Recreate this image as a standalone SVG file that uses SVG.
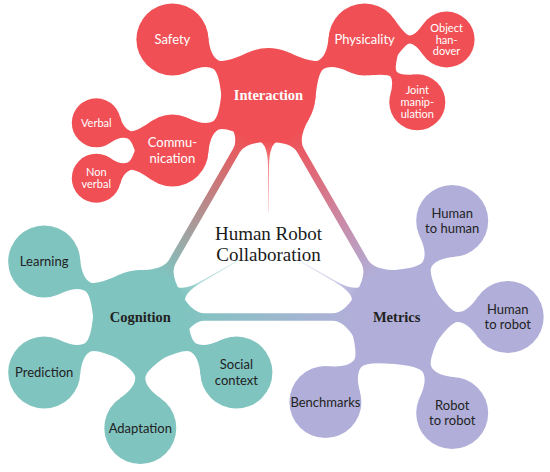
<svg xmlns="http://www.w3.org/2000/svg" width="550" height="472" viewBox="0 0 550 472">
<defs>
<style>
.r{fill:#F05055}
.t{fill:#80C4C0}
.l{fill:#B1AFD9}
.lab{font-family:Lato,"Open Sans",sans-serif;font-size:13px;text-anchor:middle}
.sm{font-family:Lato,"Open Sans",sans-serif;font-size:11px;text-anchor:middle}
.main{font-family:"Liberation Serif","Times New Roman",serif;font-size:14.5px;font-weight:bold;text-anchor:middle}
.ctr{font-family:"Liberation Serif","Times New Roman",serif;font-size:19px;text-anchor:middle;fill:#1a1a1a}
.w{fill:#fff}
.d{fill:#222}
</style>
<path id="cA" d="M38.5,27 Q53.9,5 61,5 Q70.6,5 81.5,20.6 L81.5,-20.6 Q70.6,-5 61,-5 Q53.9,-5 38.5,-27 Z"/>
<path id="cB" d="M29.5,20.6 Q41.1,4 45,4 Q50.6,4 59.1,16.1 L59.1,-16.1 Q50.6,-4 45,-4 Q41.1,-4 29.5,-20.6 Z"/>
<path id="cC" d="M29.5,20.6 Q41.1,4 46.2,4 Q53.9,4 60.9,14 L60.9,-14 Q53.9,-4 46.2,-4 Q41.1,-4 29.5,-20.6 Z"/>
<path id="band" d="M40.7,23.5 Q52.1,3.75 64,3.75 L192.3,3.75 Q204.2,3.75 215.6,23.5 L215.6,-23.5 Q204.2,-3.75 192.3,-3.75 L64,-3.75 Q52.1,-3.75 40.7,-23.5 Z"/>
<path id="cusp" d="M45.8,10.6 Q48.1,0.5 72,0.5 L118,0.5 L118,-0.5 L72,-0.5 Q48.1,-0.5 45.8,-10.6 Z"/>
<linearGradient id="gIC" gradientUnits="userSpaceOnUse" x1="47" y1="0" x2="209" y2="0"><stop offset="0" stop-color="#F05055"/><stop offset="1" stop-color="#80C4C0"/></linearGradient>
<linearGradient id="gIM" gradientUnits="userSpaceOnUse" x1="47" y1="0" x2="209" y2="0"><stop offset="0" stop-color="#F05055"/><stop offset="1" stop-color="#B1AFD9"/></linearGradient>
<linearGradient id="gCM" gradientUnits="userSpaceOnUse" x1="47" y1="0" x2="209" y2="0"><stop offset="0" stop-color="#80C4C0"/><stop offset="1" stop-color="#B1AFD9"/></linearGradient>
<linearGradient id="fI" gradientUnits="userSpaceOnUse" x1="47" y1="0" x2="120" y2="0"><stop offset="0" stop-color="#F05055"/><stop offset="1" stop-color="#F05055" stop-opacity="0.1"/></linearGradient>
<linearGradient id="fC" gradientUnits="userSpaceOnUse" x1="47" y1="0" x2="120" y2="0"><stop offset="0" stop-color="#80C4C0"/><stop offset="1" stop-color="#80C4C0" stop-opacity="0.1"/></linearGradient>
<linearGradient id="fM" gradientUnits="userSpaceOnUse" x1="47" y1="0" x2="120" y2="0"><stop offset="0" stop-color="#B1AFD9"/><stop offset="1" stop-color="#B1AFD9" stop-opacity="0.1"/></linearGradient>
</defs>
<rect width="550" height="472" fill="#fff"/>
<g id="connectors">
<use href="#band" fill="url(#gIC)" transform="translate(268.5,95) rotate(120)"/>
<use href="#band" fill="url(#gIM)" transform="translate(268.5,95) rotate(60)"/>
<use href="#band" fill="url(#gCM)" transform="translate(140.3,317) rotate(0)"/>
<use href="#cusp" fill="url(#fI)" transform="translate(268.5,95) rotate(90)"/>
<use href="#cusp" fill="url(#fC)" transform="translate(140.3,317) rotate(-30)"/>
<use href="#cusp" fill="url(#fM)" transform="translate(396.7,317) rotate(-150)"/>
<use href="#cA" class="r" transform="translate(268.5,95) rotate(-150)"/>
<use href="#cA" class="r" transform="translate(268.5,95) rotate(-30)"/>
<use href="#cA" class="r" transform="translate(268.5,95) rotate(150)"/>
<use href="#cB" class="r" transform="translate(364.6,39.5) rotate(0)"/>
<use href="#cB" class="r" transform="translate(364.6,39.5) rotate(50)"/>
<use href="#cC" class="r" transform="translate(172.4,150.5) rotate(200)"/>
<use href="#cC" class="r" transform="translate(172.4,150.5) rotate(160)"/>
<use href="#cA" class="t" transform="translate(140.3,317) rotate(-150)"/>
<use href="#cA" class="t" transform="translate(140.3,317) rotate(150)"/>
<use href="#cA" class="t" transform="translate(140.3,317) rotate(90)"/>
<use href="#cA" class="t" transform="translate(140.3,317) rotate(30)"/>
<use href="#cA" class="l" transform="translate(396.7,317) rotate(-60)"/>
<use href="#cA" class="l" transform="translate(396.7,317) rotate(0)"/>
<use href="#cA" class="l" transform="translate(396.7,317) rotate(60)"/>
<use href="#cA" class="l" transform="translate(396.7,317) rotate(130)"/>
</g>
<g id="center"><text class="ctr" x="268.5" y="240">Human Robot</text><text class="ctr" x="268.5" y="260.5">Collaboration</text></g>
<g id="interaction"><circle class="r" cx="268.5" cy="95" r="47"/><text class="main w" x="268.5" y="100">Interaction</text></g>
<g id="safety"><circle class="r" cx="172.4" cy="39.5" r="36"/><text class="lab w" x="172.4" y="44">Safety</text></g>
<g id="physicality"><circle class="r" cx="364.6" cy="39.5" r="36"/><text class="lab w" x="364.6" y="44">Physicality</text></g>
<g id="object-handover"><circle class="r" cx="446.6" cy="39.5" r="28"/><text class="sm w" x="446.6" y="32">Object</text><text class="sm w" x="446.6" y="43.7">han-</text><text class="sm w" x="446.6" y="55.4">dover</text></g>
<g id="joint-manipulation"><circle class="r" cx="417.3" cy="102.3" r="28"/><text class="sm w" x="417.3" y="94.3">Joint</text><text class="sm w" x="417.3" y="106">manip-</text><text class="sm w" x="417.3" y="117.7">ulation</text></g>
<g id="communication"><circle class="r" cx="172.4" cy="150.5" r="36"/><text class="lab w" x="172.4" y="147">Commu-</text><text class="lab w" x="172.4" y="162.5">nication</text></g>
<g id="verbal"><circle class="r" cx="96.3" cy="122.8" r="24.5"/><text class="sm w" x="96.3" y="126.5">Verbal</text></g>
<g id="non-verbal"><circle class="r" cx="96.3" cy="178.2" r="24.5"/><text class="sm w" x="96.3" y="176.2">Non</text><text class="sm w" x="96.3" y="187.7">verbal</text></g>
<g id="cognition"><circle class="t" cx="140.3" cy="317" r="47"/><text class="main d" x="140.3" y="321.8">Cognition</text></g>
<g id="learning"><circle class="t" cx="44.2" cy="261.5" r="36"/><text class="lab d" x="44.2" y="266">Learning</text></g>
<g id="prediction"><circle class="t" cx="44.2" cy="372.5" r="36"/><text class="lab d" x="44.2" y="377">Prediction</text></g>
<g id="adaptation"><circle class="t" cx="140.3" cy="428" r="36"/><text class="lab d" x="140.3" y="432.5">Adaptation</text></g>
<g id="social-context"><circle class="t" cx="236.4" cy="372.5" r="36"/><text class="lab d" x="236.4" y="369">Social</text><text class="lab d" x="236.4" y="384.5">context</text></g>
<g id="metrics"><circle class="l" cx="396.7" cy="317" r="47"/><text class="main d" x="396.7" y="321.8">Metrics</text></g>
<g id="human-to-human"><circle class="l" cx="452.2" cy="220.9" r="36"/><text class="lab d" x="452.2" y="217.5">Human</text><text class="lab d" x="452.2" y="233">to human</text></g>
<g id="human-to-robot"><circle class="l" cx="507.7" cy="317" r="36"/><text class="lab d" x="507.7" y="313.5">Human</text><text class="lab d" x="507.7" y="329">to robot</text></g>
<g id="robot-to-robot"><circle class="l" cx="452.2" cy="413.1" r="36"/><text class="lab d" x="452.2" y="409.6">Robot</text><text class="lab d" x="452.2" y="425.1">to robot</text></g>
<g id="benchmarks"><circle class="l" cx="325.4" cy="402" r="36"/><text class="lab d" x="325.4" y="406.5">Benchmarks</text></g>
</svg>
